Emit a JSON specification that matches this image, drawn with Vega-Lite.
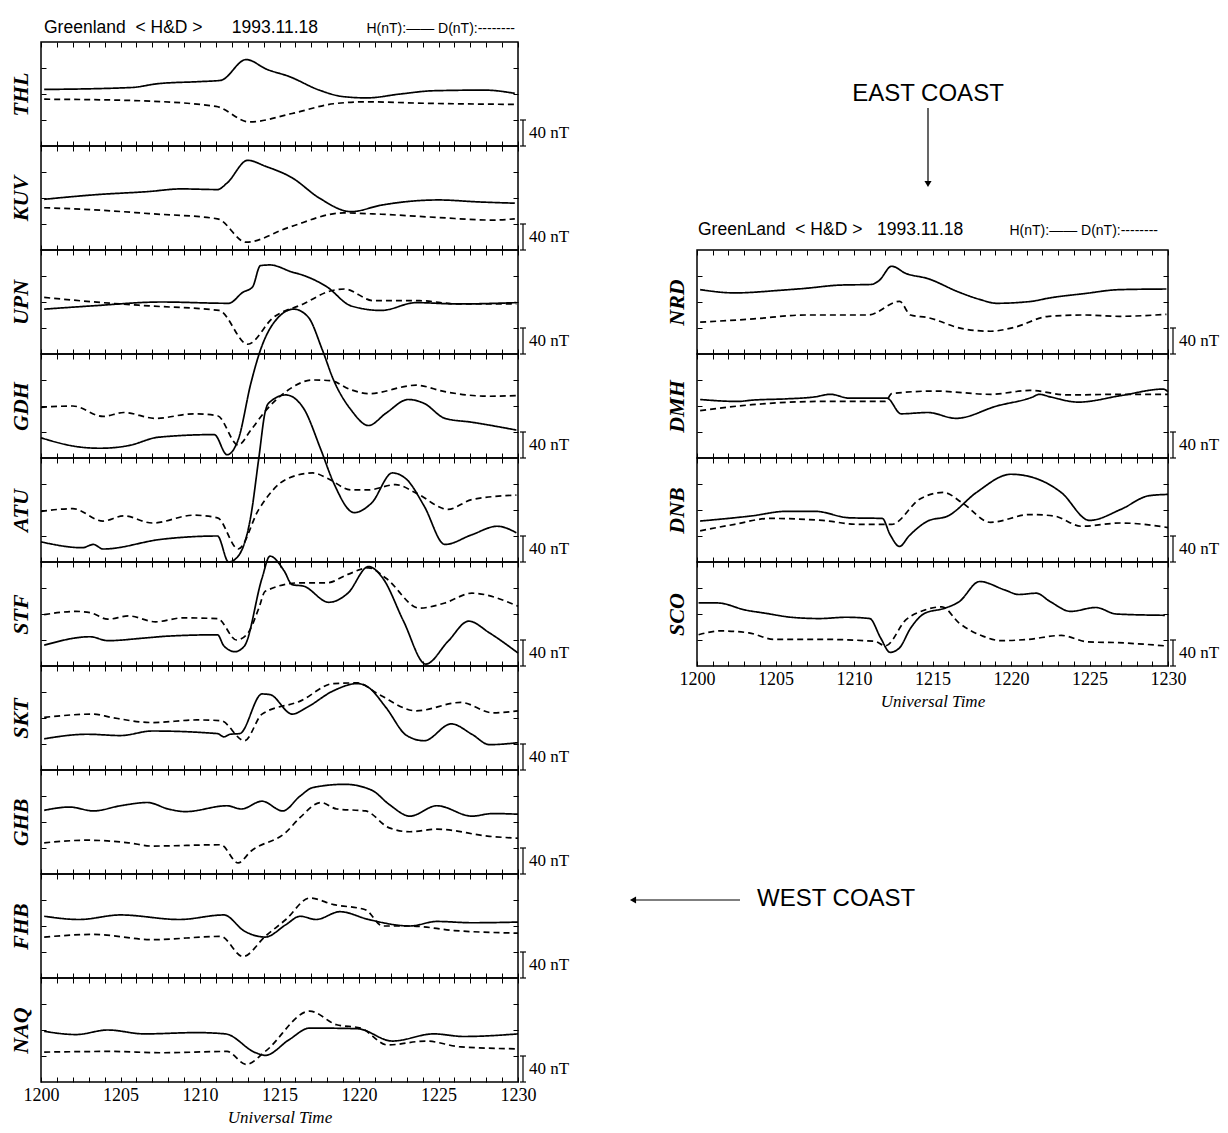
{
"$schema":"https://vega.github.io/schema/vega-lite/v6.json",
"background":"white",
"padding":{"left":8,"top":18,"right":5,"bottom":5},
"datasets":{"mag":[
{"s":"THL","c":"H","t":1200.2,"v":87},{"s":"THL","c":"H","t":1205.7,"v":90},{"s":"THL","c":"H","t":1207.4,"v":96},{"s":"THL","c":"H","t":1209.9,"v":99},{"s":"THL","c":"H","t":1211.3,"v":101},{"s":"THL","c":"H","t":1212.9,"v":133},{"s":"THL","c":"H","t":1214.2,"v":118},{"s":"THL","c":"H","t":1215.6,"v":107},{"s":"THL","c":"H","t":1217.5,"v":86},{"s":"THL","c":"H","t":1219.0,"v":76},{"s":"THL","c":"H","t":1220.5,"v":74},{"s":"THL","c":"H","t":1222.6,"v":80},{"s":"THL","c":"H","t":1224.7,"v":85},{"s":"THL","c":"H","t":1227.9,"v":86},{"s":"THL","c":"H","t":1229.8,"v":81},
{"s":"THL","c":"D","t":1200.2,"v":72},{"s":"THL","c":"D","t":1205.7,"v":70},{"s":"THL","c":"D","t":1211.0,"v":61},{"s":"THL","c":"D","t":1213.1,"v":37},{"s":"THL","c":"D","t":1215.8,"v":50},{"s":"THL","c":"D","t":1218.4,"v":65},{"s":"THL","c":"D","t":1220.5,"v":68},{"s":"THL","c":"D","t":1223.7,"v":66},{"s":"THL","c":"D","t":1229.8,"v":64},
{"s":"KUV","c":"H","t":1200.2,"v":78},{"s":"KUV","c":"H","t":1203.4,"v":85},{"s":"KUV","c":"H","t":1206.8,"v":90},{"s":"KUV","c":"H","t":1208.8,"v":94},{"s":"KUV","c":"H","t":1211.1,"v":93},{"s":"KUV","c":"H","t":1211.7,"v":103},{"s":"KUV","c":"H","t":1213.0,"v":138},{"s":"KUV","c":"H","t":1214.1,"v":129},{"s":"KUV","c":"H","t":1215.8,"v":111},{"s":"KUV","c":"H","t":1217.5,"v":80},{"s":"KUV","c":"H","t":1219.5,"v":59},{"s":"KUV","c":"H","t":1221.4,"v":69},{"s":"KUV","c":"H","t":1225.0,"v":77},{"s":"KUV","c":"H","t":1227.5,"v":74},{"s":"KUV","c":"H","t":1229.8,"v":72},
{"s":"KUV","c":"D","t":1200.2,"v":65},{"s":"KUV","c":"D","t":1203.2,"v":62},{"s":"KUV","c":"D","t":1206.8,"v":56},{"s":"KUV","c":"D","t":1211.1,"v":48},{"s":"KUV","c":"D","t":1212.9,"v":12},{"s":"KUV","c":"D","t":1215.6,"v":35},{"s":"KUV","c":"D","t":1219.0,"v":57},{"s":"KUV","c":"D","t":1221.4,"v":55},{"s":"KUV","c":"D","t":1225.0,"v":50},{"s":"KUV","c":"D","t":1228.4,"v":46},{"s":"KUV","c":"D","t":1229.8,"v":48},
{"s":"UPN","c":"H","t":1200.2,"v":69},{"s":"UPN","c":"H","t":1203.2,"v":74},{"s":"UPN","c":"H","t":1207.6,"v":80},{"s":"UPN","c":"H","t":1211.8,"v":78},{"s":"UPN","c":"H","t":1212.7,"v":95},{"s":"UPN","c":"H","t":1213.3,"v":103},{"s":"UPN","c":"H","t":1213.8,"v":136},{"s":"UPN","c":"H","t":1214.4,"v":137},{"s":"UPN","c":"H","t":1215.8,"v":126},{"s":"UPN","c":"H","t":1216.5,"v":121},{"s":"UPN","c":"H","t":1218.0,"v":103},{"s":"UPN","c":"H","t":1219.5,"v":74},{"s":"UPN","c":"H","t":1221.4,"v":67},{"s":"UPN","c":"H","t":1223.6,"v":79},{"s":"UPN","c":"H","t":1226.2,"v":77},{"s":"UPN","c":"H","t":1229.9,"v":79},
{"s":"UPN","c":"D","t":1200.2,"v":87},{"s":"UPN","c":"D","t":1204.4,"v":78},{"s":"UPN","c":"D","t":1206.8,"v":74},{"s":"UPN","c":"D","t":1211.2,"v":67},{"s":"UPN","c":"D","t":1213.0,"v":15},{"s":"UPN","c":"D","t":1214.6,"v":56},{"s":"UPN","c":"D","t":1216.5,"v":77},{"s":"UPN","c":"D","t":1218.2,"v":97},{"s":"UPN","c":"D","t":1219.1,"v":100},{"s":"UPN","c":"D","t":1220.9,"v":82},{"s":"UPN","c":"D","t":1223.8,"v":82},{"s":"UPN","c":"D","t":1226.2,"v":77},{"s":"UPN","c":"D","t":1229.9,"v":77},
{"s":"GDH","c":"H","t":1200.0,"v":31},{"s":"GDH","c":"H","t":1202.4,"v":17},{"s":"GDH","c":"H","t":1203.7,"v":15},{"s":"GDH","c":"H","t":1205.5,"v":19},{"s":"GDH","c":"H","t":1207.4,"v":32},{"s":"GDH","c":"H","t":1210.9,"v":36},{"s":"GDH","c":"H","t":1211.7,"v":5},{"s":"GDH","c":"H","t":1212.4,"v":28},{"s":"GDH","c":"H","t":1213.2,"v":115},{"s":"GDH","c":"H","t":1213.8,"v":166},{"s":"GDH","c":"H","t":1214.7,"v":210},{"s":"GDH","c":"H","t":1215.9,"v":229},{"s":"GDH","c":"H","t":1216.8,"v":217},{"s":"GDH","c":"H","t":1217.7,"v":166},{"s":"GDH","c":"H","t":1218.4,"v":120},{"s":"GDH","c":"H","t":1219.5,"v":74},{"s":"GDH","c":"H","t":1220.6,"v":50},{"s":"GDH","c":"H","t":1221.7,"v":69},{"s":"GDH","c":"H","t":1223.1,"v":90},{"s":"GDH","c":"H","t":1224.1,"v":84},{"s":"GDH","c":"H","t":1225.4,"v":61},{"s":"GDH","c":"H","t":1227.1,"v":55},{"s":"GDH","c":"H","t":1229.9,"v":43},
{"s":"GDH","c":"D","t":1200.0,"v":78},{"s":"GDH","c":"D","t":1202.0,"v":80},{"s":"GDH","c":"D","t":1203.9,"v":64},{"s":"GDH","c":"D","t":1205.2,"v":70},{"s":"GDH","c":"D","t":1207.2,"v":61},{"s":"GDH","c":"D","t":1209.6,"v":68},{"s":"GDH","c":"D","t":1211.1,"v":65},{"s":"GDH","c":"D","t":1212.4,"v":20},{"s":"GDH","c":"D","t":1213.2,"v":43},{"s":"GDH","c":"D","t":1214.1,"v":72},{"s":"GDH","c":"D","t":1215.4,"v":102},{"s":"GDH","c":"D","t":1217.1,"v":120},{"s":"GDH","c":"D","t":1218.2,"v":119},{"s":"GDH","c":"D","t":1219.5,"v":105},{"s":"GDH","c":"D","t":1220.6,"v":99},{"s":"GDH","c":"D","t":1223.6,"v":112},{"s":"GDH","c":"D","t":1225.4,"v":102},{"s":"GDH","c":"D","t":1228.2,"v":95},{"s":"GDH","c":"D","t":1229.9,"v":96},
{"s":"ATU","c":"H","t":1200.0,"v":31},{"s":"ATU","c":"H","t":1202.6,"v":22},{"s":"ATU","c":"H","t":1203.3,"v":27},{"s":"ATU","c":"H","t":1203.9,"v":20},{"s":"ATU","c":"H","t":1207.6,"v":35},{"s":"ATU","c":"H","t":1211.1,"v":40},{"s":"ATU","c":"H","t":1211.8,"v":0},{"s":"ATU","c":"H","t":1212.4,"v":9},{"s":"ATU","c":"H","t":1213.2,"v":71},{"s":"ATU","c":"H","t":1213.7,"v":160},{"s":"ATU","c":"H","t":1214.1,"v":231},{"s":"ATU","c":"H","t":1214.3,"v":244},{"s":"ATU","c":"H","t":1215.4,"v":257},{"s":"ATU","c":"H","t":1216.5,"v":237},{"s":"ATU","c":"H","t":1217.6,"v":173},{"s":"ATU","c":"H","t":1218.4,"v":122},{"s":"ATU","c":"H","t":1219.7,"v":76},{"s":"ATU","c":"H","t":1220.8,"v":91},{"s":"ATU","c":"H","t":1222.1,"v":137},{"s":"ATU","c":"H","t":1223.0,"v":127},{"s":"ATU","c":"H","t":1224.1,"v":86},{"s":"ATU","c":"H","t":1225.4,"v":27},{"s":"ATU","c":"H","t":1227.1,"v":42},{"s":"ATU","c":"H","t":1228.7,"v":55},{"s":"ATU","c":"H","t":1229.9,"v":45},
{"s":"ATU","c":"D","t":1200.0,"v":78},{"s":"ATU","c":"D","t":1202.0,"v":82},{"s":"ATU","c":"D","t":1203.9,"v":63},{"s":"ATU","c":"D","t":1205.2,"v":71},{"s":"ATU","c":"D","t":1207.0,"v":60},{"s":"ATU","c":"D","t":1209.6,"v":72},{"s":"ATU","c":"D","t":1211.1,"v":68},{"s":"ATU","c":"D","t":1212.4,"v":20},{"s":"ATU","c":"D","t":1213.7,"v":81},{"s":"ATU","c":"D","t":1215.4,"v":127},{"s":"ATU","c":"D","t":1217.1,"v":137},{"s":"ATU","c":"D","t":1218.0,"v":129},{"s":"ATU","c":"D","t":1219.5,"v":111},{"s":"ATU","c":"D","t":1220.6,"v":111},{"s":"ATU","c":"D","t":1222.3,"v":119},{"s":"ATU","c":"D","t":1223.6,"v":106},{"s":"ATU","c":"D","t":1225.6,"v":81},{"s":"ATU","c":"D","t":1227.1,"v":96},{"s":"ATU","c":"D","t":1229.9,"v":103},
{"s":"STF","c":"H","t":1200.2,"v":32},{"s":"STF","c":"H","t":1203.1,"v":45},{"s":"STF","c":"H","t":1204.2,"v":39},{"s":"STF","c":"H","t":1206.5,"v":43},{"s":"STF","c":"H","t":1208.0,"v":46},{"s":"STF","c":"H","t":1211.1,"v":48},{"s":"STF","c":"H","t":1211.5,"v":31},{"s":"STF","c":"H","t":1212.2,"v":22},{"s":"STF","c":"H","t":1212.8,"v":31},{"s":"STF","c":"H","t":1213.9,"v":135},{"s":"STF","c":"H","t":1214.4,"v":169},{"s":"STF","c":"H","t":1215.3,"v":146},{"s":"STF","c":"H","t":1215.8,"v":125},{"s":"STF","c":"H","t":1216.5,"v":123},{"s":"STF","c":"H","t":1218.1,"v":98},{"s":"STF","c":"H","t":1219.3,"v":112},{"s":"STF","c":"H","t":1220.6,"v":153},{"s":"STF","c":"H","t":1221.5,"v":135},{"s":"STF","c":"H","t":1222.8,"v":69},{"s":"STF","c":"H","t":1224.2,"v":3},{"s":"STF","c":"H","t":1225.6,"v":38},{"s":"STF","c":"H","t":1226.9,"v":69},{"s":"STF","c":"H","t":1228.2,"v":51},{"s":"STF","c":"H","t":1230.0,"v":20},
{"s":"STF","c":"D","t":1200.2,"v":79},{"s":"STF","c":"D","t":1202.2,"v":84},{"s":"STF","c":"D","t":1203.1,"v":82},{"s":"STF","c":"D","t":1204.2,"v":72},{"s":"STF","c":"D","t":1205.5,"v":77},{"s":"STF","c":"D","t":1207.2,"v":68},{"s":"STF","c":"D","t":1208.9,"v":74},{"s":"STF","c":"D","t":1211.1,"v":73},{"s":"STF","c":"D","t":1212.3,"v":40},{"s":"STF","c":"D","t":1213.0,"v":50},{"s":"STF","c":"D","t":1213.7,"v":89},{"s":"STF","c":"D","t":1214.1,"v":115},{"s":"STF","c":"D","t":1216.3,"v":128},{"s":"STF","c":"D","t":1218.0,"v":128},{"s":"STF","c":"D","t":1219.3,"v":141},{"s":"STF","c":"D","t":1220.6,"v":151},{"s":"STF","c":"D","t":1221.7,"v":135},{"s":"STF","c":"D","t":1223.8,"v":89},{"s":"STF","c":"D","t":1225.4,"v":97},{"s":"STF","c":"D","t":1227.1,"v":112},{"s":"STF","c":"D","t":1230.0,"v":92},
{"s":"SKT","c":"H","t":1200.2,"v":48},{"s":"SKT","c":"H","t":1202.9,"v":55},{"s":"SKT","c":"H","t":1205.0,"v":53},{"s":"SKT","c":"H","t":1207.0,"v":60},{"s":"SKT","c":"H","t":1211.1,"v":56},{"s":"SKT","c":"H","t":1211.5,"v":51},{"s":"SKT","c":"H","t":1211.9,"v":55},{"s":"SKT","c":"H","t":1212.5,"v":56},{"s":"SKT","c":"H","t":1213.9,"v":117},{"s":"SKT","c":"H","t":1214.4,"v":116},{"s":"SKT","c":"H","t":1215.8,"v":86},{"s":"SKT","c":"H","t":1216.7,"v":96},{"s":"SKT","c":"H","t":1218.4,"v":122},{"s":"SKT","c":"H","t":1219.9,"v":133},{"s":"SKT","c":"H","t":1220.6,"v":127},{"s":"SKT","c":"H","t":1221.7,"v":96},{"s":"SKT","c":"H","t":1223.0,"v":53},{"s":"SKT","c":"H","t":1224.1,"v":45},{"s":"SKT","c":"H","t":1225.8,"v":71},{"s":"SKT","c":"H","t":1227.1,"v":55},{"s":"SKT","c":"H","t":1228.2,"v":39},{"s":"SKT","c":"H","t":1230.0,"v":42},
{"s":"SKT","c":"D","t":1200.2,"v":81},{"s":"SKT","c":"D","t":1203.3,"v":86},{"s":"SKT","c":"D","t":1204.4,"v":81},{"s":"SKT","c":"D","t":1207.0,"v":73},{"s":"SKT","c":"D","t":1209.8,"v":77},{"s":"SKT","c":"D","t":1211.3,"v":76},{"s":"SKT","c":"D","t":1212.8,"v":45},{"s":"SKT","c":"D","t":1213.9,"v":86},{"s":"SKT","c":"D","t":1216.3,"v":106},{"s":"SKT","c":"D","t":1218.4,"v":133},{"s":"SKT","c":"D","t":1219.9,"v":134},{"s":"SKT","c":"D","t":1221.2,"v":117},{"s":"SKT","c":"D","t":1223.6,"v":91},{"s":"SKT","c":"D","t":1226.4,"v":104},{"s":"SKT","c":"D","t":1228.4,"v":88},{"s":"SKT","c":"D","t":1230.0,"v":91},
{"s":"GHB","c":"H","t":1200.2,"v":98},{"s":"GHB","c":"H","t":1201.8,"v":103},{"s":"GHB","c":"H","t":1203.3,"v":97},{"s":"GHB","c":"H","t":1205.0,"v":105},{"s":"GHB","c":"H","t":1206.7,"v":110},{"s":"GHB","c":"H","t":1208.0,"v":100},{"s":"GHB","c":"H","t":1209.1,"v":96},{"s":"GHB","c":"H","t":1211.7,"v":105},{"s":"GHB","c":"H","t":1212.6,"v":100},{"s":"GHB","c":"H","t":1213.9,"v":112},{"s":"GHB","c":"H","t":1215.2,"v":97},{"s":"GHB","c":"H","t":1216.3,"v":120},{"s":"GHB","c":"H","t":1217.1,"v":133},{"s":"GHB","c":"H","t":1219.1,"v":138},{"s":"GHB","c":"H","t":1220.8,"v":129},{"s":"GHB","c":"H","t":1221.9,"v":107},{"s":"GHB","c":"H","t":1223.2,"v":89},{"s":"GHB","c":"H","t":1224.9,"v":105},{"s":"GHB","c":"H","t":1227.1,"v":89},{"s":"GHB","c":"H","t":1228.4,"v":93},{"s":"GHB","c":"H","t":1230.0,"v":92},
{"s":"GHB","c":"D","t":1200.2,"v":48},{"s":"GHB","c":"D","t":1202.9,"v":52},{"s":"GHB","c":"D","t":1205.5,"v":48},{"s":"GHB","c":"D","t":1207.0,"v":43},{"s":"GHB","c":"D","t":1211.3,"v":45},{"s":"GHB","c":"D","t":1212.4,"v":17},{"s":"GHB","c":"D","t":1213.2,"v":35},{"s":"GHB","c":"D","t":1215.4,"v":64},{"s":"GHB","c":"D","t":1216.3,"v":87},{"s":"GHB","c":"D","t":1217.6,"v":110},{"s":"GHB","c":"D","t":1218.6,"v":100},{"s":"GHB","c":"D","t":1220.4,"v":97},{"s":"GHB","c":"D","t":1221.9,"v":71},{"s":"GHB","c":"D","t":1223.2,"v":65},{"s":"GHB","c":"D","t":1224.9,"v":69},{"s":"GHB","c":"D","t":1228.2,"v":58},{"s":"GHB","c":"D","t":1230.0,"v":55},
{"s":"FHB","c":"H","t":1200.2,"v":95},{"s":"FHB","c":"H","t":1202.4,"v":90},{"s":"FHB","c":"H","t":1205.0,"v":97},{"s":"FHB","c":"H","t":1208.7,"v":90},{"s":"FHB","c":"H","t":1211.5,"v":97},{"s":"FHB","c":"H","t":1212.8,"v":72},{"s":"FHB","c":"H","t":1214.1,"v":63},{"s":"FHB","c":"H","t":1215.4,"v":82},{"s":"FHB","c":"H","t":1216.3,"v":95},{"s":"FHB","c":"H","t":1217.3,"v":90},{"s":"FHB","c":"H","t":1218.8,"v":102},{"s":"FHB","c":"H","t":1220.6,"v":90},{"s":"FHB","c":"H","t":1223.2,"v":80},{"s":"FHB","c":"H","t":1224.9,"v":87},{"s":"FHB","c":"H","t":1227.1,"v":85},{"s":"FHB","c":"H","t":1230.0,"v":86},
{"s":"FHB","c":"D","t":1200.2,"v":63},{"s":"FHB","c":"D","t":1203.3,"v":67},{"s":"FHB","c":"D","t":1207.0,"v":59},{"s":"FHB","c":"D","t":1211.3,"v":64},{"s":"FHB","c":"D","t":1212.7,"v":33},{"s":"FHB","c":"D","t":1214.1,"v":64},{"s":"FHB","c":"D","t":1215.4,"v":90},{"s":"FHB","c":"D","t":1216.9,"v":123},{"s":"FHB","c":"D","t":1218.4,"v":113},{"s":"FHB","c":"D","t":1220.4,"v":105},{"s":"FHB","c":"D","t":1221.5,"v":80},{"s":"FHB","c":"D","t":1223.2,"v":80},{"s":"FHB","c":"D","t":1226.0,"v":73},{"s":"FHB","c":"D","t":1230.0,"v":69},
{"s":"NAQ","c":"H","t":1200.2,"v":78},{"s":"NAQ","c":"H","t":1202.2,"v":73},{"s":"NAQ","c":"H","t":1204.2,"v":80},{"s":"NAQ","c":"H","t":1206.5,"v":74},{"s":"NAQ","c":"H","t":1209.8,"v":76},{"s":"NAQ","c":"H","t":1211.6,"v":74},{"s":"NAQ","c":"H","t":1213.5,"v":45},{"s":"NAQ","c":"H","t":1214.1,"v":41},{"s":"NAQ","c":"H","t":1215.6,"v":65},{"s":"NAQ","c":"H","t":1216.9,"v":83},{"s":"NAQ","c":"H","t":1219.9,"v":82},{"s":"NAQ","c":"H","t":1222.1,"v":63},{"s":"NAQ","c":"H","t":1224.7,"v":74},{"s":"NAQ","c":"H","t":1226.6,"v":70},{"s":"NAQ","c":"H","t":1230.0,"v":74},
{"s":"NAQ","c":"D","t":1200.2,"v":46},{"s":"NAQ","c":"D","t":1204.4,"v":47},{"s":"NAQ","c":"D","t":1207.6,"v":45},{"s":"NAQ","c":"D","t":1211.7,"v":47},{"s":"NAQ","c":"D","t":1212.9,"v":27},{"s":"NAQ","c":"D","t":1214.1,"v":47},{"s":"NAQ","c":"D","t":1216.9,"v":109},{"s":"NAQ","c":"D","t":1218.6,"v":88},{"s":"NAQ","c":"D","t":1220.1,"v":83},{"s":"NAQ","c":"D","t":1221.8,"v":57},{"s":"NAQ","c":"D","t":1224.2,"v":63},{"s":"NAQ","c":"D","t":1226.4,"v":54},{"s":"NAQ","c":"D","t":1230.0,"v":51},
{"s":"NRD","c":"H","t":1200.2,"v":99},{"s":"NRD","c":"H","t":1202.4,"v":94},{"s":"NRD","c":"H","t":1205.3,"v":98},{"s":"NRD","c":"H","t":1206.9,"v":101},{"s":"NRD","c":"H","t":1209.1,"v":106},{"s":"NRD","c":"H","t":1211.1,"v":107},{"s":"NRD","c":"H","t":1211.6,"v":113},{"s":"NRD","c":"H","t":1212.4,"v":135},{"s":"NRD","c":"H","t":1213.3,"v":124},{"s":"NRD","c":"H","t":1214.7,"v":116},{"s":"NRD","c":"H","t":1216.7,"v":95},{"s":"NRD","c":"H","t":1218.0,"v":84},{"s":"NRD","c":"H","t":1219.1,"v":78},{"s":"NRD","c":"H","t":1221.3,"v":81},{"s":"NRD","c":"H","t":1222.4,"v":86},{"s":"NRD","c":"H","t":1224.7,"v":93},{"s":"NRD","c":"H","t":1226.9,"v":99},{"s":"NRD","c":"H","t":1229.9,"v":100},
{"s":"NRD","c":"D","t":1200.2,"v":49},{"s":"NRD","c":"D","t":1203.6,"v":54},{"s":"NRD","c":"D","t":1206.9,"v":60},{"s":"NRD","c":"D","t":1210.9,"v":60},{"s":"NRD","c":"D","t":1212.9,"v":81},{"s":"NRD","c":"D","t":1213.6,"v":60},{"s":"NRD","c":"D","t":1214.7,"v":56},{"s":"NRD","c":"D","t":1216.9,"v":39},{"s":"NRD","c":"D","t":1218.7,"v":35},{"s":"NRD","c":"D","t":1220.2,"v":41},{"s":"NRD","c":"D","t":1222.4,"v":58},{"s":"NRD","c":"D","t":1224.7,"v":60},{"s":"NRD","c":"D","t":1226.9,"v":58},{"s":"NRD","c":"D","t":1229.9,"v":61},
{"s":"DMH","c":"H","t":1200.2,"v":90},{"s":"DMH","c":"H","t":1202.6,"v":87},{"s":"DMH","c":"H","t":1203.5,"v":89},{"s":"DMH","c":"H","t":1205.7,"v":91},{"s":"DMH","c":"H","t":1207.5,"v":94},{"s":"DMH","c":"H","t":1208.5,"v":98},{"s":"DMH","c":"H","t":1209.7,"v":92},{"s":"DMH","c":"H","t":1212.1,"v":92},{"s":"DMH","c":"H","t":1213.0,"v":68},{"s":"DMH","c":"H","t":1214.7,"v":70},{"s":"DMH","c":"H","t":1216.5,"v":61},{"s":"DMH","c":"H","t":1219.1,"v":80},{"s":"DMH","c":"H","t":1221.4,"v":94},{"s":"DMH","c":"H","t":1221.8,"v":98},{"s":"DMH","c":"H","t":1222.5,"v":94},{"s":"DMH","c":"H","t":1224.3,"v":86},{"s":"DMH","c":"H","t":1227.0,"v":96},{"s":"DMH","c":"H","t":1229.7,"v":106},{"s":"DMH","c":"H","t":1230.0,"v":102},
{"s":"DMH","c":"D","t":1200.2,"v":73},{"s":"DMH","c":"D","t":1203.5,"v":82},{"s":"DMH","c":"D","t":1207.9,"v":87},{"s":"DMH","c":"D","t":1212.0,"v":87},{"s":"DMH","c":"D","t":1212.4,"v":99},{"s":"DMH","c":"D","t":1215.1,"v":103},{"s":"DMH","c":"D","t":1218.7,"v":98},{"s":"DMH","c":"D","t":1221.2,"v":104},{"s":"DMH","c":"D","t":1223.6,"v":97},{"s":"DMH","c":"D","t":1227.0,"v":98},{"s":"DMH","c":"D","t":1230.0,"v":98},
{"s":"DNB","c":"H","t":1200.2,"v":63},{"s":"DNB","c":"H","t":1203.5,"v":71},{"s":"DNB","c":"H","t":1205.7,"v":78},{"s":"DNB","c":"H","t":1207.5,"v":78},{"s":"DNB","c":"H","t":1209.7,"v":68},{"s":"DNB","c":"H","t":1211.8,"v":67},{"s":"DNB","c":"H","t":1212.3,"v":42},{"s":"DNB","c":"H","t":1212.9,"v":24},{"s":"DNB","c":"H","t":1213.5,"v":40},{"s":"DNB","c":"H","t":1214.7,"v":63},{"s":"DNB","c":"H","t":1216.0,"v":71},{"s":"DNB","c":"H","t":1217.8,"v":107},{"s":"DNB","c":"H","t":1220.0,"v":135},{"s":"DNB","c":"H","t":1221.4,"v":130},{"s":"DNB","c":"H","t":1223.2,"v":107},{"s":"DNB","c":"H","t":1225.0,"v":64},{"s":"DNB","c":"H","t":1227.0,"v":81},{"s":"DNB","c":"H","t":1228.8,"v":102},{"s":"DNB","c":"H","t":1230.0,"v":104},
{"s":"DNB","c":"D","t":1200.2,"v":48},{"s":"DNB","c":"D","t":1202.4,"v":58},{"s":"DNB","c":"D","t":1204.6,"v":67},{"s":"DNB","c":"D","t":1208.0,"v":64},{"s":"DNB","c":"D","t":1210.2,"v":58},{"s":"DNB","c":"D","t":1212.4,"v":58},{"s":"DNB","c":"D","t":1214.2,"v":97},{"s":"DNB","c":"D","t":1215.7,"v":107},{"s":"DNB","c":"D","t":1216.9,"v":91},{"s":"DNB","c":"D","t":1218.7,"v":61},{"s":"DNB","c":"D","t":1221.2,"v":73},{"s":"DNB","c":"D","t":1222.7,"v":71},{"s":"DNB","c":"D","t":1224.5,"v":55},{"s":"DNB","c":"D","t":1227.0,"v":60},{"s":"DNB","c":"D","t":1230.0,"v":53},
{"s":"SCO","c":"H","t":1200.1,"v":97},{"s":"SCO","c":"H","t":1201.3,"v":97},{"s":"SCO","c":"H","t":1203.1,"v":86},{"s":"SCO","c":"H","t":1204.4,"v":81},{"s":"SCO","c":"H","t":1206.0,"v":75},{"s":"SCO","c":"H","t":1207.8,"v":73},{"s":"SCO","c":"H","t":1209.5,"v":75},{"s":"SCO","c":"H","t":1211.0,"v":73},{"s":"SCO","c":"H","t":1211.7,"v":43},{"s":"SCO","c":"H","t":1212.3,"v":21},{"s":"SCO","c":"H","t":1212.9,"v":28},{"s":"SCO","c":"H","t":1213.6,"v":58},{"s":"SCO","c":"H","t":1214.5,"v":81},{"s":"SCO","c":"H","t":1215.8,"v":89},{"s":"SCO","c":"H","t":1216.7,"v":99},{"s":"SCO","c":"H","t":1218.0,"v":130},{"s":"SCO","c":"H","t":1219.6,"v":117},{"s":"SCO","c":"H","t":1220.5,"v":110},{"s":"SCO","c":"H","t":1221.6,"v":112},{"s":"SCO","c":"H","t":1222.5,"v":99},{"s":"SCO","c":"H","t":1223.8,"v":84},{"s":"SCO","c":"H","t":1225.4,"v":90},{"s":"SCO","c":"H","t":1226.7,"v":80},{"s":"SCO","c":"H","t":1229.8,"v":78},
{"s":"SCO","c":"D","t":1200.1,"v":48},{"s":"SCO","c":"D","t":1201.5,"v":54},{"s":"SCO","c":"D","t":1203.3,"v":51},{"s":"SCO","c":"D","t":1204.9,"v":41},{"s":"SCO","c":"D","t":1207.8,"v":41},{"s":"SCO","c":"D","t":1211.3,"v":38},{"s":"SCO","c":"D","t":1212.0,"v":31},{"s":"SCO","c":"D","t":1213.3,"v":71},{"s":"SCO","c":"D","t":1214.5,"v":86},{"s":"SCO","c":"D","t":1215.6,"v":91},{"s":"SCO","c":"D","t":1216.7,"v":66},{"s":"SCO","c":"D","t":1218.2,"v":46},{"s":"SCO","c":"D","t":1219.4,"v":39},{"s":"SCO","c":"D","t":1221.1,"v":41},{"s":"SCO","c":"D","t":1223.2,"v":47},{"s":"SCO","c":"D","t":1224.9,"v":37},{"s":"SCO","c":"D","t":1226.7,"v":36},{"s":"SCO","c":"D","t":1229.8,"v":31}
]},
"columns":2,
"spacing":{"row":0,"column":179},
"bounds":"flush",
"align":"each",
"concat":[
{"width":477,"height":104,
 "layer":[
 {"data":{"name":"mag"},"transform":[{"filter":"datum.s==='THL'"}],"mark":{"type":"line","interpolate":"monotone","color":"black","strokeWidth":1.7},"encoding":{"x":{"field":"t","type":"quantitative","scale":{"domain":[1200,1230],"nice":false,"zero":false},"axis":{"orient":"bottom","tickCount":30,"title":null}},"y":{"field":"v","type":"quantitative","scale":{"domain":[0,160],"nice":false,"zero":false},"axis":{"orient":"left","values":[40,80,120],"title":"THL"}},"strokeDash":{"field":"c","type":"nominal","scale":{"domain":["H","D"],"range":[[1,0],[6,4]]},"legend":null}}},
 {"data":{"values":[{}]},"mark":{"type":"rule","color":"black","strokeWidth":1.2,"xOffset":5},"encoding":{"x":{"datum":1230,"type":"quantitative","axis":{"orient":"top","tickCount":30,"title":null}},"y":{"datum":0,"type":"quantitative","axis":{"orient":"right","values":[40,80,120],"title":null}},"y2":{"datum":40}}},
 {"data":{"values":[{}]},"mark":{"type":"rule","color":"black","strokeWidth":1.2,"xOffset":2,"x2Offset":8},"encoding":{"x":{"datum":1230,"type":"quantitative","axis":null},"x2":{"datum":1230},"y":{"datum":0,"type":"quantitative","axis":null}}},
 {"data":{"values":[{}]},"mark":{"type":"rule","color":"black","strokeWidth":1.2,"xOffset":2,"x2Offset":8},"encoding":{"x":{"datum":1230,"type":"quantitative","axis":null},"x2":{"datum":1230},"y":{"datum":40,"type":"quantitative","axis":null}}},
 {"data":{"values":[{}]},"mark":{"type":"text","text":"40 nT","align":"left","baseline":"middle","dx":11,"font":"Liberation Serif","fontSize":17,"color":"black"},"encoding":{"x":{"datum":1230,"type":"quantitative","axis":null},"y":{"datum":20,"type":"quantitative","axis":null}}},
 {"data":{"values":[{}]},"mark":{"type":"text","text":"Greenland\u00a0\u00a0< H&D >\u00a0\u00a0\u00a0\u00a0\u00a0\u00a01993.11.18","align":"left","baseline":"alphabetic","dx":3,"dy":-9,"font":"Liberation Sans","fontSize":17.5,"color":"black"},"encoding":{"x":{"datum":1200,"type":"quantitative","axis":null},"y":{"datum":160,"type":"quantitative","axis":null}}},
 {"data":{"values":[{}]},"mark":{"type":"text","text":"H(nT):\u2014\u2014 D(nT):--------","align":"right","baseline":"alphabetic","dx":-3,"dy":-9,"font":"Liberation Sans","fontSize":14,"color":"black"},"encoding":{"x":{"datum":1230,"type":"quantitative","axis":null},"y":{"datum":160,"type":"quantitative","axis":null}}}
 ],"resolve":{"axis":{"x":"independent","y":"independent"}}},
{"width":471,"height":104,"view":{"stroke":null},"layer":[
 {"data":{"values":[{}]},"mark":{"type":"text","text":"EAST COAST","font":"Liberation Sans","fontSize":24,"align":"center","baseline":"middle","color":"black"},"encoding":{"x":{"datum":231,"type":"quantitative","scale":{"domain":[0,471],"nice":false,"zero":false},"axis":null},"y":{"datum":52,"type":"quantitative","scale":{"domain":[0,104],"nice":false,"zero":false},"axis":null}}},
 {"data":{"values":[{}]},"mark":{"type":"rule","color":"black","strokeWidth":1.2},"encoding":{"x":{"datum":231,"type":"quantitative","axis":null},"y":{"datum":38,"type":"quantitative","axis":null},"y2":{"datum":-38}}},
 {"data":{"values":[{}]},"mark":{"type":"point","shape":"triangle-down","filled":true,"color":"black","opacity":1,"size":50},"encoding":{"x":{"datum":231,"type":"quantitative","axis":null},"y":{"datum":-38,"type":"quantitative","axis":null}}}
]},
{"width":477,"height":104,"layer":[
 {"data":{"name":"mag"},"transform":[{"filter":"datum.s==='KUV'"}],"mark":{"type":"line","interpolate":"monotone","color":"black","strokeWidth":1.7},"encoding":{"x":{"field":"t","type":"quantitative","scale":{"domain":[1200,1230],"nice":false,"zero":false},"axis":{"orient":"bottom","tickCount":30,"title":null}},"y":{"field":"v","type":"quantitative","scale":{"domain":[0,160],"nice":false,"zero":false},"axis":{"orient":"left","values":[40,80,120],"title":"KUV"}},"strokeDash":{"field":"c","type":"nominal","scale":{"domain":["H","D"],"range":[[1,0],[6,4]]},"legend":null}}},
 {"data":{"values":[{}]},"mark":{"type":"rule","color":"black","strokeWidth":1.2,"xOffset":5},"encoding":{"x":{"datum":1230,"type":"quantitative","axis":{"orient":"top","tickCount":30,"title":null}},"y":{"datum":0,"type":"quantitative","axis":{"orient":"right","values":[40,80,120],"title":null}},"y2":{"datum":40}}},
 {"data":{"values":[{}]},"mark":{"type":"rule","color":"black","strokeWidth":1.2,"xOffset":2,"x2Offset":8},"encoding":{"x":{"datum":1230,"type":"quantitative","axis":null},"x2":{"datum":1230},"y":{"datum":0,"type":"quantitative","axis":null}}},
 {"data":{"values":[{}]},"mark":{"type":"rule","color":"black","strokeWidth":1.2,"xOffset":2,"x2Offset":8},"encoding":{"x":{"datum":1230,"type":"quantitative","axis":null},"x2":{"datum":1230},"y":{"datum":40,"type":"quantitative","axis":null}}},
 {"data":{"values":[{}]},"mark":{"type":"text","text":"40 nT","align":"left","baseline":"middle","dx":11,"font":"Liberation Serif","fontSize":17,"color":"black"},"encoding":{"x":{"datum":1230,"type":"quantitative","axis":null},"y":{"datum":20,"type":"quantitative","axis":null}}}
 ],"resolve":{"axis":{"x":"independent","y":"independent"}}},
{"width":471,"height":104,"view":{"stroke":null},"data":{"values":[{}]},"mark":{"type":"text","text":""},"encoding":{}},
{"width":477,"height":104,"layer":[
 {"data":{"name":"mag"},"transform":[{"filter":"datum.s==='UPN'"}],"mark":{"type":"line","interpolate":"monotone","color":"black","strokeWidth":1.7},"encoding":{"x":{"field":"t","type":"quantitative","scale":{"domain":[1200,1230],"nice":false,"zero":false},"axis":{"orient":"bottom","tickCount":30,"title":null}},"y":{"field":"v","type":"quantitative","scale":{"domain":[0,160],"nice":false,"zero":false},"axis":{"orient":"left","values":[40,80,120],"title":"UPN"}},"strokeDash":{"field":"c","type":"nominal","scale":{"domain":["H","D"],"range":[[1,0],[6,4]]},"legend":null}}},
 {"data":{"values":[{}]},"mark":{"type":"rule","color":"black","strokeWidth":1.2,"xOffset":5},"encoding":{"x":{"datum":1230,"type":"quantitative","axis":{"orient":"top","tickCount":30,"title":null}},"y":{"datum":0,"type":"quantitative","axis":{"orient":"right","values":[40,80,120],"title":null}},"y2":{"datum":40}}},
 {"data":{"values":[{}]},"mark":{"type":"rule","color":"black","strokeWidth":1.2,"xOffset":2,"x2Offset":8},"encoding":{"x":{"datum":1230,"type":"quantitative","axis":null},"x2":{"datum":1230},"y":{"datum":0,"type":"quantitative","axis":null}}},
 {"data":{"values":[{}]},"mark":{"type":"rule","color":"black","strokeWidth":1.2,"xOffset":2,"x2Offset":8},"encoding":{"x":{"datum":1230,"type":"quantitative","axis":null},"x2":{"datum":1230},"y":{"datum":40,"type":"quantitative","axis":null}}},
 {"data":{"values":[{}]},"mark":{"type":"text","text":"40 nT","align":"left","baseline":"middle","dx":11,"font":"Liberation Serif","fontSize":17,"color":"black"},"encoding":{"x":{"datum":1230,"type":"quantitative","axis":null},"y":{"datum":20,"type":"quantitative","axis":null}}}
 ],"resolve":{"axis":{"x":"independent","y":"independent"}}},
{"width":471,"height":104,
 "layer":[
 {"data":{"name":"mag"},"transform":[{"filter":"datum.s==='NRD'"}],"mark":{"type":"line","interpolate":"monotone","color":"black","strokeWidth":1.7},"encoding":{"x":{"field":"t","type":"quantitative","scale":{"domain":[1200,1230],"nice":false,"zero":false},"axis":{"orient":"bottom","tickCount":30,"title":null}},"y":{"field":"v","type":"quantitative","scale":{"domain":[0,160],"nice":false,"zero":false},"axis":{"orient":"left","values":[40,80,120],"title":"NRD"}},"strokeDash":{"field":"c","type":"nominal","scale":{"domain":["H","D"],"range":[[1,0],[6,4]]},"legend":null}}},
 {"data":{"values":[{}]},"mark":{"type":"rule","color":"black","strokeWidth":1.2,"xOffset":5},"encoding":{"x":{"datum":1230,"type":"quantitative","axis":{"orient":"top","tickCount":30,"title":null}},"y":{"datum":0,"type":"quantitative","axis":{"orient":"right","values":[40,80,120],"title":null}},"y2":{"datum":40}}},
 {"data":{"values":[{}]},"mark":{"type":"rule","color":"black","strokeWidth":1.2,"xOffset":2,"x2Offset":8},"encoding":{"x":{"datum":1230,"type":"quantitative","axis":null},"x2":{"datum":1230},"y":{"datum":0,"type":"quantitative","axis":null}}},
 {"data":{"values":[{}]},"mark":{"type":"rule","color":"black","strokeWidth":1.2,"xOffset":2,"x2Offset":8},"encoding":{"x":{"datum":1230,"type":"quantitative","axis":null},"x2":{"datum":1230},"y":{"datum":40,"type":"quantitative","axis":null}}},
 {"data":{"values":[{}]},"mark":{"type":"text","text":"40 nT","align":"left","baseline":"middle","dx":11,"font":"Liberation Serif","fontSize":17,"color":"black"},"encoding":{"x":{"datum":1230,"type":"quantitative","axis":null},"y":{"datum":20,"type":"quantitative","axis":null}}},
 {"data":{"values":[{}]},"mark":{"type":"text","text":"GreenLand\u00a0\u00a0< H&D >\u00a0\u00a0\u00a01993.11.18","align":"left","baseline":"alphabetic","dx":1,"dy":-15,"font":"Liberation Sans","fontSize":17.5,"color":"black"},"encoding":{"x":{"datum":1200,"type":"quantitative","axis":null},"y":{"datum":160,"type":"quantitative","axis":null}}},
 {"data":{"values":[{}]},"mark":{"type":"text","text":"H(nT):\u2014\u2014 D(nT):--------","align":"right","baseline":"alphabetic","dx":-10,"dy":-15,"font":"Liberation Sans","fontSize":14,"color":"black"},"encoding":{"x":{"datum":1230,"type":"quantitative","axis":null},"y":{"datum":160,"type":"quantitative","axis":null}}}
 ],"resolve":{"axis":{"x":"independent","y":"independent"}}},
{"width":477,"height":104,"layer":[
 {"data":{"name":"mag"},"transform":[{"filter":"datum.s==='GDH'"}],"mark":{"type":"line","interpolate":"monotone","color":"black","strokeWidth":1.7},"encoding":{"x":{"field":"t","type":"quantitative","scale":{"domain":[1200,1230],"nice":false,"zero":false},"axis":{"orient":"bottom","tickCount":30,"title":null}},"y":{"field":"v","type":"quantitative","scale":{"domain":[0,160],"nice":false,"zero":false},"axis":{"orient":"left","values":[40,80,120],"title":"GDH"}},"strokeDash":{"field":"c","type":"nominal","scale":{"domain":["H","D"],"range":[[1,0],[6,4]]},"legend":null}}},
 {"data":{"values":[{}]},"mark":{"type":"rule","color":"black","strokeWidth":1.2,"xOffset":5},"encoding":{"x":{"datum":1230,"type":"quantitative","axis":{"orient":"top","tickCount":30,"title":null}},"y":{"datum":0,"type":"quantitative","axis":{"orient":"right","values":[40,80,120],"title":null}},"y2":{"datum":40}}},
 {"data":{"values":[{}]},"mark":{"type":"rule","color":"black","strokeWidth":1.2,"xOffset":2,"x2Offset":8},"encoding":{"x":{"datum":1230,"type":"quantitative","axis":null},"x2":{"datum":1230},"y":{"datum":0,"type":"quantitative","axis":null}}},
 {"data":{"values":[{}]},"mark":{"type":"rule","color":"black","strokeWidth":1.2,"xOffset":2,"x2Offset":8},"encoding":{"x":{"datum":1230,"type":"quantitative","axis":null},"x2":{"datum":1230},"y":{"datum":40,"type":"quantitative","axis":null}}},
 {"data":{"values":[{}]},"mark":{"type":"text","text":"40 nT","align":"left","baseline":"middle","dx":11,"font":"Liberation Serif","fontSize":17,"color":"black"},"encoding":{"x":{"datum":1230,"type":"quantitative","axis":null},"y":{"datum":20,"type":"quantitative","axis":null}}}
 ],"resolve":{"axis":{"x":"independent","y":"independent"}}},
{"width":471,"height":104,"layer":[
 {"data":{"name":"mag"},"transform":[{"filter":"datum.s==='DMH'"}],"mark":{"type":"line","interpolate":"monotone","color":"black","strokeWidth":1.7},"encoding":{"x":{"field":"t","type":"quantitative","scale":{"domain":[1200,1230],"nice":false,"zero":false},"axis":{"orient":"bottom","tickCount":30,"title":null}},"y":{"field":"v","type":"quantitative","scale":{"domain":[0,160],"nice":false,"zero":false},"axis":{"orient":"left","values":[40,80,120],"title":"DMH"}},"strokeDash":{"field":"c","type":"nominal","scale":{"domain":["H","D"],"range":[[1,0],[6,4]]},"legend":null}}},
 {"data":{"values":[{}]},"mark":{"type":"rule","color":"black","strokeWidth":1.2,"xOffset":5},"encoding":{"x":{"datum":1230,"type":"quantitative","axis":{"orient":"top","tickCount":30,"title":null}},"y":{"datum":0,"type":"quantitative","axis":{"orient":"right","values":[40,80,120],"title":null}},"y2":{"datum":40}}},
 {"data":{"values":[{}]},"mark":{"type":"rule","color":"black","strokeWidth":1.2,"xOffset":2,"x2Offset":8},"encoding":{"x":{"datum":1230,"type":"quantitative","axis":null},"x2":{"datum":1230},"y":{"datum":0,"type":"quantitative","axis":null}}},
 {"data":{"values":[{}]},"mark":{"type":"rule","color":"black","strokeWidth":1.2,"xOffset":2,"x2Offset":8},"encoding":{"x":{"datum":1230,"type":"quantitative","axis":null},"x2":{"datum":1230},"y":{"datum":40,"type":"quantitative","axis":null}}},
 {"data":{"values":[{}]},"mark":{"type":"text","text":"40 nT","align":"left","baseline":"middle","dx":11,"font":"Liberation Serif","fontSize":17,"color":"black"},"encoding":{"x":{"datum":1230,"type":"quantitative","axis":null},"y":{"datum":20,"type":"quantitative","axis":null}}}
 ],"resolve":{"axis":{"x":"independent","y":"independent"}}},
{"width":477,"height":104,"layer":[
 {"data":{"name":"mag"},"transform":[{"filter":"datum.s==='ATU'"}],"mark":{"type":"line","interpolate":"monotone","color":"black","strokeWidth":1.7},"encoding":{"x":{"field":"t","type":"quantitative","scale":{"domain":[1200,1230],"nice":false,"zero":false},"axis":{"orient":"bottom","tickCount":30,"title":null}},"y":{"field":"v","type":"quantitative","scale":{"domain":[0,160],"nice":false,"zero":false},"axis":{"orient":"left","values":[40,80,120],"title":"ATU"}},"strokeDash":{"field":"c","type":"nominal","scale":{"domain":["H","D"],"range":[[1,0],[6,4]]},"legend":null}}},
 {"data":{"values":[{}]},"mark":{"type":"rule","color":"black","strokeWidth":1.2,"xOffset":5},"encoding":{"x":{"datum":1230,"type":"quantitative","axis":{"orient":"top","tickCount":30,"title":null}},"y":{"datum":0,"type":"quantitative","axis":{"orient":"right","values":[40,80,120],"title":null}},"y2":{"datum":40}}},
 {"data":{"values":[{}]},"mark":{"type":"rule","color":"black","strokeWidth":1.2,"xOffset":2,"x2Offset":8},"encoding":{"x":{"datum":1230,"type":"quantitative","axis":null},"x2":{"datum":1230},"y":{"datum":0,"type":"quantitative","axis":null}}},
 {"data":{"values":[{}]},"mark":{"type":"rule","color":"black","strokeWidth":1.2,"xOffset":2,"x2Offset":8},"encoding":{"x":{"datum":1230,"type":"quantitative","axis":null},"x2":{"datum":1230},"y":{"datum":40,"type":"quantitative","axis":null}}},
 {"data":{"values":[{}]},"mark":{"type":"text","text":"40 nT","align":"left","baseline":"middle","dx":11,"font":"Liberation Serif","fontSize":17,"color":"black"},"encoding":{"x":{"datum":1230,"type":"quantitative","axis":null},"y":{"datum":20,"type":"quantitative","axis":null}}}
 ],"resolve":{"axis":{"x":"independent","y":"independent"}}},
{"width":471,"height":104,"layer":[
 {"data":{"name":"mag"},"transform":[{"filter":"datum.s==='DNB'"}],"mark":{"type":"line","interpolate":"monotone","color":"black","strokeWidth":1.7},"encoding":{"x":{"field":"t","type":"quantitative","scale":{"domain":[1200,1230],"nice":false,"zero":false},"axis":{"orient":"bottom","tickCount":30,"title":null}},"y":{"field":"v","type":"quantitative","scale":{"domain":[0,160],"nice":false,"zero":false},"axis":{"orient":"left","values":[40,80,120],"title":"DNB"}},"strokeDash":{"field":"c","type":"nominal","scale":{"domain":["H","D"],"range":[[1,0],[6,4]]},"legend":null}}},
 {"data":{"values":[{}]},"mark":{"type":"rule","color":"black","strokeWidth":1.2,"xOffset":5},"encoding":{"x":{"datum":1230,"type":"quantitative","axis":{"orient":"top","tickCount":30,"title":null}},"y":{"datum":0,"type":"quantitative","axis":{"orient":"right","values":[40,80,120],"title":null}},"y2":{"datum":40}}},
 {"data":{"values":[{}]},"mark":{"type":"rule","color":"black","strokeWidth":1.2,"xOffset":2,"x2Offset":8},"encoding":{"x":{"datum":1230,"type":"quantitative","axis":null},"x2":{"datum":1230},"y":{"datum":0,"type":"quantitative","axis":null}}},
 {"data":{"values":[{}]},"mark":{"type":"rule","color":"black","strokeWidth":1.2,"xOffset":2,"x2Offset":8},"encoding":{"x":{"datum":1230,"type":"quantitative","axis":null},"x2":{"datum":1230},"y":{"datum":40,"type":"quantitative","axis":null}}},
 {"data":{"values":[{}]},"mark":{"type":"text","text":"40 nT","align":"left","baseline":"middle","dx":11,"font":"Liberation Serif","fontSize":17,"color":"black"},"encoding":{"x":{"datum":1230,"type":"quantitative","axis":null},"y":{"datum":20,"type":"quantitative","axis":null}}}
 ],"resolve":{"axis":{"x":"independent","y":"independent"}}},
{"width":477,"height":104,"layer":[
 {"data":{"name":"mag"},"transform":[{"filter":"datum.s==='STF'"}],"mark":{"type":"line","interpolate":"monotone","color":"black","strokeWidth":1.7},"encoding":{"x":{"field":"t","type":"quantitative","scale":{"domain":[1200,1230],"nice":false,"zero":false},"axis":{"orient":"bottom","tickCount":30,"title":null}},"y":{"field":"v","type":"quantitative","scale":{"domain":[0,160],"nice":false,"zero":false},"axis":{"orient":"left","values":[40,80,120],"title":"STF"}},"strokeDash":{"field":"c","type":"nominal","scale":{"domain":["H","D"],"range":[[1,0],[6,4]]},"legend":null}}},
 {"data":{"values":[{}]},"mark":{"type":"rule","color":"black","strokeWidth":1.2,"xOffset":5},"encoding":{"x":{"datum":1230,"type":"quantitative","axis":{"orient":"top","tickCount":30,"title":null}},"y":{"datum":0,"type":"quantitative","axis":{"orient":"right","values":[40,80,120],"title":null}},"y2":{"datum":40}}},
 {"data":{"values":[{}]},"mark":{"type":"rule","color":"black","strokeWidth":1.2,"xOffset":2,"x2Offset":8},"encoding":{"x":{"datum":1230,"type":"quantitative","axis":null},"x2":{"datum":1230},"y":{"datum":0,"type":"quantitative","axis":null}}},
 {"data":{"values":[{}]},"mark":{"type":"rule","color":"black","strokeWidth":1.2,"xOffset":2,"x2Offset":8},"encoding":{"x":{"datum":1230,"type":"quantitative","axis":null},"x2":{"datum":1230},"y":{"datum":40,"type":"quantitative","axis":null}}},
 {"data":{"values":[{}]},"mark":{"type":"text","text":"40 nT","align":"left","baseline":"middle","dx":11,"font":"Liberation Serif","fontSize":17,"color":"black"},"encoding":{"x":{"datum":1230,"type":"quantitative","axis":null},"y":{"datum":20,"type":"quantitative","axis":null}}}
 ],"resolve":{"axis":{"x":"independent","y":"independent"}}},
{"width":471,"height":104,"layer":[
 {"data":{"name":"mag"},"transform":[{"filter":"datum.s==='SCO'"}],"mark":{"type":"line","interpolate":"monotone","color":"black","strokeWidth":1.7},"encoding":{"x":{"field":"t","type":"quantitative","scale":{"domain":[1200,1230],"nice":false,"zero":false},"axis":{"orient":"bottom","tickCount":30,"labels":true,"format":"d","labelExpr":"datum.value % 5 === 0 ? datum.label : ''","labelOverlap":false,"labelFlush":false,"labelPadding":9,"title":"Universal Time"}},"y":{"field":"v","type":"quantitative","scale":{"domain":[0,160],"nice":false,"zero":false},"axis":{"orient":"left","values":[40,80,120],"title":"SCO"}},"strokeDash":{"field":"c","type":"nominal","scale":{"domain":["H","D"],"range":[[1,0],[6,4]]},"legend":null}}},
 {"data":{"values":[{}]},"mark":{"type":"rule","color":"black","strokeWidth":1.2,"xOffset":5},"encoding":{"x":{"datum":1230,"type":"quantitative","axis":{"orient":"top","tickCount":30,"title":null}},"y":{"datum":0,"type":"quantitative","axis":{"orient":"right","values":[40,80,120],"title":null}},"y2":{"datum":40}}},
 {"data":{"values":[{}]},"mark":{"type":"rule","color":"black","strokeWidth":1.2,"xOffset":2,"x2Offset":8},"encoding":{"x":{"datum":1230,"type":"quantitative","axis":null},"x2":{"datum":1230},"y":{"datum":0,"type":"quantitative","axis":null}}},
 {"data":{"values":[{}]},"mark":{"type":"rule","color":"black","strokeWidth":1.2,"xOffset":2,"x2Offset":8},"encoding":{"x":{"datum":1230,"type":"quantitative","axis":null},"x2":{"datum":1230},"y":{"datum":40,"type":"quantitative","axis":null}}},
 {"data":{"values":[{}]},"mark":{"type":"text","text":"40 nT","align":"left","baseline":"middle","dx":11,"font":"Liberation Serif","fontSize":17,"color":"black"},"encoding":{"x":{"datum":1230,"type":"quantitative","axis":null},"y":{"datum":20,"type":"quantitative","axis":null}}}
 ],"resolve":{"axis":{"x":"independent","y":"independent"}}},
{"width":477,"height":104,"layer":[
 {"data":{"name":"mag"},"transform":[{"filter":"datum.s==='SKT'"}],"mark":{"type":"line","interpolate":"monotone","color":"black","strokeWidth":1.7},"encoding":{"x":{"field":"t","type":"quantitative","scale":{"domain":[1200,1230],"nice":false,"zero":false},"axis":{"orient":"bottom","tickCount":30,"title":null}},"y":{"field":"v","type":"quantitative","scale":{"domain":[0,160],"nice":false,"zero":false},"axis":{"orient":"left","values":[40,80,120],"title":"SKT"}},"strokeDash":{"field":"c","type":"nominal","scale":{"domain":["H","D"],"range":[[1,0],[6,4]]},"legend":null}}},
 {"data":{"values":[{}]},"mark":{"type":"rule","color":"black","strokeWidth":1.2,"xOffset":5},"encoding":{"x":{"datum":1230,"type":"quantitative","axis":{"orient":"top","tickCount":30,"title":null}},"y":{"datum":0,"type":"quantitative","axis":{"orient":"right","values":[40,80,120],"title":null}},"y2":{"datum":40}}},
 {"data":{"values":[{}]},"mark":{"type":"rule","color":"black","strokeWidth":1.2,"xOffset":2,"x2Offset":8},"encoding":{"x":{"datum":1230,"type":"quantitative","axis":null},"x2":{"datum":1230},"y":{"datum":0,"type":"quantitative","axis":null}}},
 {"data":{"values":[{}]},"mark":{"type":"rule","color":"black","strokeWidth":1.2,"xOffset":2,"x2Offset":8},"encoding":{"x":{"datum":1230,"type":"quantitative","axis":null},"x2":{"datum":1230},"y":{"datum":40,"type":"quantitative","axis":null}}},
 {"data":{"values":[{}]},"mark":{"type":"text","text":"40 nT","align":"left","baseline":"middle","dx":11,"font":"Liberation Serif","fontSize":17,"color":"black"},"encoding":{"x":{"datum":1230,"type":"quantitative","axis":null},"y":{"datum":20,"type":"quantitative","axis":null}}}
 ],"resolve":{"axis":{"x":"independent","y":"independent"}}},
{"width":471,"height":104,"view":{"stroke":null},"data":{"values":[{}]},"mark":{"type":"text","text":""},"encoding":{}},
{"width":477,"height":104,"layer":[
 {"data":{"name":"mag"},"transform":[{"filter":"datum.s==='GHB'"}],"mark":{"type":"line","interpolate":"monotone","color":"black","strokeWidth":1.7},"encoding":{"x":{"field":"t","type":"quantitative","scale":{"domain":[1200,1230],"nice":false,"zero":false},"axis":{"orient":"bottom","tickCount":30,"title":null}},"y":{"field":"v","type":"quantitative","scale":{"domain":[0,160],"nice":false,"zero":false},"axis":{"orient":"left","values":[40,80,120],"title":"GHB"}},"strokeDash":{"field":"c","type":"nominal","scale":{"domain":["H","D"],"range":[[1,0],[6,4]]},"legend":null}}},
 {"data":{"values":[{}]},"mark":{"type":"rule","color":"black","strokeWidth":1.2,"xOffset":5},"encoding":{"x":{"datum":1230,"type":"quantitative","axis":{"orient":"top","tickCount":30,"title":null}},"y":{"datum":0,"type":"quantitative","axis":{"orient":"right","values":[40,80,120],"title":null}},"y2":{"datum":40}}},
 {"data":{"values":[{}]},"mark":{"type":"rule","color":"black","strokeWidth":1.2,"xOffset":2,"x2Offset":8},"encoding":{"x":{"datum":1230,"type":"quantitative","axis":null},"x2":{"datum":1230},"y":{"datum":0,"type":"quantitative","axis":null}}},
 {"data":{"values":[{}]},"mark":{"type":"rule","color":"black","strokeWidth":1.2,"xOffset":2,"x2Offset":8},"encoding":{"x":{"datum":1230,"type":"quantitative","axis":null},"x2":{"datum":1230},"y":{"datum":40,"type":"quantitative","axis":null}}},
 {"data":{"values":[{}]},"mark":{"type":"text","text":"40 nT","align":"left","baseline":"middle","dx":11,"font":"Liberation Serif","fontSize":17,"color":"black"},"encoding":{"x":{"datum":1230,"type":"quantitative","axis":null},"y":{"datum":20,"type":"quantitative","axis":null}}}
 ],"resolve":{"axis":{"x":"independent","y":"independent"}}},
{"width":471,"height":104,"view":{"stroke":null},"data":{"values":[{}]},"mark":{"type":"text","text":""},"encoding":{}},
{"width":477,"height":104,"layer":[
 {"data":{"name":"mag"},"transform":[{"filter":"datum.s==='FHB'"}],"mark":{"type":"line","interpolate":"monotone","color":"black","strokeWidth":1.7},"encoding":{"x":{"field":"t","type":"quantitative","scale":{"domain":[1200,1230],"nice":false,"zero":false},"axis":{"orient":"bottom","tickCount":30,"title":null}},"y":{"field":"v","type":"quantitative","scale":{"domain":[0,160],"nice":false,"zero":false},"axis":{"orient":"left","values":[40,80,120],"title":"FHB"}},"strokeDash":{"field":"c","type":"nominal","scale":{"domain":["H","D"],"range":[[1,0],[6,4]]},"legend":null}}},
 {"data":{"values":[{}]},"mark":{"type":"rule","color":"black","strokeWidth":1.2,"xOffset":5},"encoding":{"x":{"datum":1230,"type":"quantitative","axis":{"orient":"top","tickCount":30,"title":null}},"y":{"datum":0,"type":"quantitative","axis":{"orient":"right","values":[40,80,120],"title":null}},"y2":{"datum":40}}},
 {"data":{"values":[{}]},"mark":{"type":"rule","color":"black","strokeWidth":1.2,"xOffset":2,"x2Offset":8},"encoding":{"x":{"datum":1230,"type":"quantitative","axis":null},"x2":{"datum":1230},"y":{"datum":0,"type":"quantitative","axis":null}}},
 {"data":{"values":[{}]},"mark":{"type":"rule","color":"black","strokeWidth":1.2,"xOffset":2,"x2Offset":8},"encoding":{"x":{"datum":1230,"type":"quantitative","axis":null},"x2":{"datum":1230},"y":{"datum":40,"type":"quantitative","axis":null}}},
 {"data":{"values":[{}]},"mark":{"type":"text","text":"40 nT","align":"left","baseline":"middle","dx":11,"font":"Liberation Serif","fontSize":17,"color":"black"},"encoding":{"x":{"datum":1230,"type":"quantitative","axis":null},"y":{"datum":20,"type":"quantitative","axis":null}}}
 ],"resolve":{"axis":{"x":"independent","y":"independent"}}},
{"width":471,"height":104,"view":{"stroke":null},"layer":[
 {"data":{"values":[{}]},"mark":{"type":"text","text":"WEST COAST","font":"Liberation Sans","fontSize":24,"align":"left","baseline":"middle","color":"black"},"encoding":{"x":{"datum":60,"type":"quantitative","scale":{"domain":[0,471],"nice":false,"zero":false},"axis":null},"y":{"datum":79,"type":"quantitative","scale":{"domain":[0,104],"nice":false,"zero":false},"axis":null}}},
 {"data":{"values":[{}]},"mark":{"type":"rule","color":"black","strokeWidth":1.2},"encoding":{"x":{"datum":43,"type":"quantitative","axis":null},"x2":{"datum":-64},"y":{"datum":78,"type":"quantitative","axis":null}}},
 {"data":{"values":[{}]},"mark":{"type":"point","shape":"triangle-left","filled":true,"color":"black","opacity":1,"size":50},"encoding":{"x":{"datum":-64,"type":"quantitative","axis":null},"y":{"datum":78,"type":"quantitative","axis":null}}}
]},
{"width":477,"height":104,"layer":[
 {"data":{"name":"mag"},"transform":[{"filter":"datum.s==='NAQ'"}],"mark":{"type":"line","interpolate":"monotone","color":"black","strokeWidth":1.7},"encoding":{"x":{"field":"t","type":"quantitative","scale":{"domain":[1200,1230],"nice":false,"zero":false},"axis":{"orient":"bottom","tickCount":30,"labels":true,"format":"d","labelExpr":"datum.value % 5 === 0 ? datum.label : ''","labelOverlap":false,"labelFlush":false,"labelPadding":9,"title":"Universal Time"}},"y":{"field":"v","type":"quantitative","scale":{"domain":[0,160],"nice":false,"zero":false},"axis":{"orient":"left","values":[40,80,120],"title":"NAQ"}},"strokeDash":{"field":"c","type":"nominal","scale":{"domain":["H","D"],"range":[[1,0],[6,4]]},"legend":null}}},
 {"data":{"values":[{}]},"mark":{"type":"rule","color":"black","strokeWidth":1.2,"xOffset":5},"encoding":{"x":{"datum":1230,"type":"quantitative","axis":{"orient":"top","tickCount":30,"title":null}},"y":{"datum":0,"type":"quantitative","axis":{"orient":"right","values":[40,80,120],"title":null}},"y2":{"datum":40}}},
 {"data":{"values":[{}]},"mark":{"type":"rule","color":"black","strokeWidth":1.2,"xOffset":2,"x2Offset":8},"encoding":{"x":{"datum":1230,"type":"quantitative","axis":null},"x2":{"datum":1230},"y":{"datum":0,"type":"quantitative","axis":null}}},
 {"data":{"values":[{}]},"mark":{"type":"rule","color":"black","strokeWidth":1.2,"xOffset":2,"x2Offset":8},"encoding":{"x":{"datum":1230,"type":"quantitative","axis":null},"x2":{"datum":1230},"y":{"datum":40,"type":"quantitative","axis":null}}},
 {"data":{"values":[{}]},"mark":{"type":"text","text":"40 nT","align":"left","baseline":"middle","dx":11,"font":"Liberation Serif","fontSize":17,"color":"black"},"encoding":{"x":{"datum":1230,"type":"quantitative","axis":null},"y":{"datum":20,"type":"quantitative","axis":null}}}
 ],"resolve":{"axis":{"x":"independent","y":"independent"}}}
],
"config":{
 "view":{"stroke":"black","strokeWidth":1.5},
 "axis":{"domain":false,"grid":false,"tickColor":"black","tickWidth":1,"tickSize":-5,"labels":false,"labelColor":"black","titleColor":"black","labelFont":"Liberation Serif","titleFont":"Liberation Serif"},
 "axisLeft":{"titleFontStyle":"italic","titleFontWeight":"bold","titleFontSize":22,"titlePadding":8},
 "axisBottom":{"labelFontSize":18,"titleFontStyle":"italic","titleFontWeight":"normal","titleFontSize":17,"titlePadding":5}
}
}
